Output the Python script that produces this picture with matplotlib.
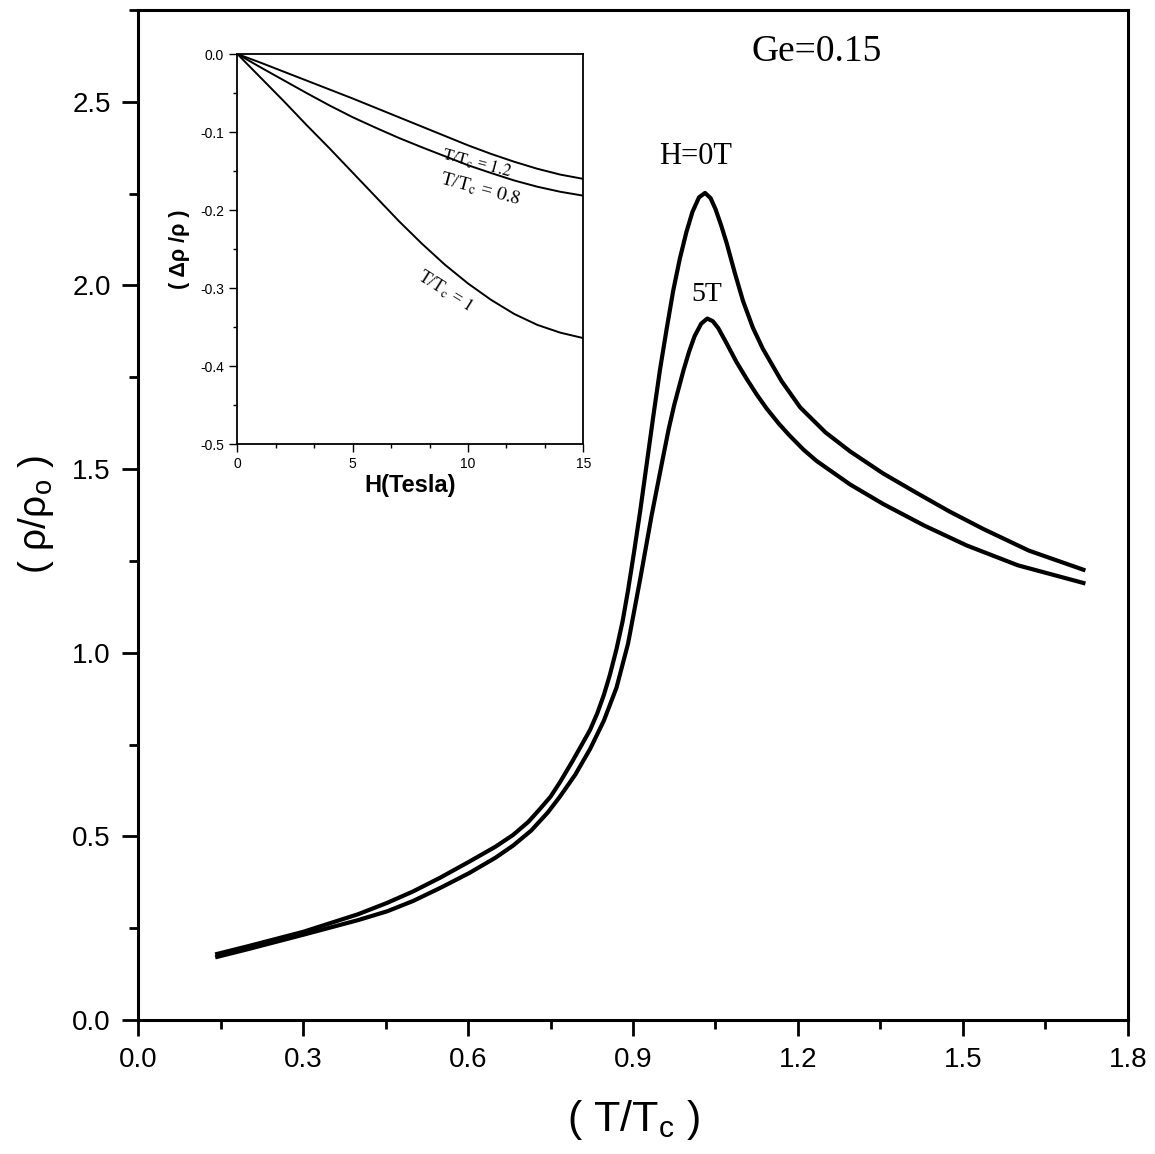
#!/usr/bin/env python3
import matplotlib

matplotlib.use("Agg")
import matplotlib.pyplot as plt
from matplotlib.ticker import FormatStrFormatter, MultipleLocator


# main panel: rho/rho_0 against T/Tc
T_H0 = [0.144, 0.200, 0.300, 0.400, 0.453, 0.500, 0.550, 0.602, 0.650, 0.682,
        0.710, 0.731, 0.750, 0.767, 0.790, 0.807, 0.822, 0.835, 0.847, 0.858,
        0.870, 0.881, 0.891, 0.902, 0.913, 0.925, 0.937, 0.949, 0.961, 0.973,
        0.985, 0.997, 1.008, 1.020, 1.031, 1.041, 1.050, 1.060, 1.070, 1.085,
        1.100, 1.118, 1.136, 1.170, 1.204, 1.250, 1.295, 1.355, 1.416, 1.475,
        1.537, 1.620, 1.719]
RHO_H0 = [0.180, 0.201, 0.240, 0.288, 0.319, 0.350, 0.388, 0.431, 0.472, 0.504,
          0.540, 0.575, 0.608, 0.647, 0.705, 0.750, 0.790, 0.835, 0.885, 0.940,
          1.010, 1.085, 1.170, 1.275, 1.385, 1.515, 1.645, 1.770, 1.880, 1.985,
          2.072, 2.145, 2.200, 2.240, 2.252, 2.238, 2.208, 2.165, 2.117, 2.035,
          1.958, 1.885, 1.828, 1.740, 1.668, 1.600, 1.548, 1.488, 1.435, 1.385,
          1.337, 1.278, 1.226]

T_H5 = [0.144, 0.200, 0.300, 0.400, 0.453, 0.500, 0.550, 0.602, 0.650, 0.682,
        0.715, 0.745, 0.767, 0.795, 0.822, 0.847, 0.870, 0.891, 0.913, 0.934,
        0.955, 0.965, 0.975, 0.992, 1.002, 1.012, 1.024, 1.035, 1.045, 1.055,
        1.070, 1.088, 1.107, 1.125, 1.143, 1.165, 1.185, 1.210, 1.234, 1.295,
        1.355, 1.430, 1.507, 1.600, 1.719]
RHO_H5 = [0.172, 0.193, 0.232, 0.272, 0.296, 0.324, 0.360, 0.400, 0.442, 0.475,
          0.516, 0.565, 0.608, 0.668, 0.738, 0.815, 0.905, 1.025, 1.200, 1.375,
          1.535, 1.610, 1.675, 1.770, 1.820, 1.862, 1.896, 1.910, 1.903, 1.884,
          1.843, 1.792, 1.745, 1.703, 1.665, 1.624, 1.591, 1.553, 1.522, 1.458,
          1.405, 1.346, 1.292, 1.238, 1.190]

# inset: delta rho / rho against field
H_TESLA = [0, 1, 2, 3, 4, 5, 6, 7, 8, 9, 10, 11, 12, 13, 14, 15]
DR_T12 = [0, -0.011, -0.0225, -0.034, -0.0455, -0.057, -0.069, -0.081, -0.093,
          -0.105, -0.117, -0.128, -0.138, -0.147, -0.1545, -0.160]
DR_T08 = [0, -0.017, -0.0335, -0.050, -0.066, -0.081, -0.0945, -0.1075, -0.1195,
          -0.131, -0.1425, -0.1525, -0.162, -0.170, -0.1765, -0.1815]
DR_T10 = [0, -0.030, -0.060, -0.091, -0.121, -0.152, -0.183, -0.214, -0.243,
          -0.270, -0.294, -0.315, -0.333, -0.347, -0.357, -0.364]

SERIF = "Liberation Serif"


def style_main(ax):
    ax.set_xlim(0, 1.8)
    ax.set_ylim(0, 2.75)
    ax.xaxis.set_major_locator(MultipleLocator(0.3))
    ax.xaxis.set_minor_locator(MultipleLocator(0.15))
    ax.yaxis.set_major_locator(MultipleLocator(0.5))
    ax.yaxis.set_minor_locator(MultipleLocator(0.25))
    ax.xaxis.set_major_formatter(FormatStrFormatter("%.1f"))
    ax.yaxis.set_major_formatter(FormatStrFormatter("%.1f"))
    ax.tick_params(which="both", direction="out", top=False, right=False, width=2.0)
    ax.tick_params(which="major", length=11.5, labelsize=20, pad=8)
    ax.tick_params(which="minor", length=6.5)
    for spine in ax.spines.values():
        spine.set_linewidth(2.2)
    ax.set_xlabel(r"( T/T$_\mathrm{c}$ )", fontsize=31, labelpad=18)
    ax.set_ylabel(r"( ρ/ρ$_\mathrm{o}$ )", fontsize=28, labelpad=12)


def style_inset(ins):
    ins.set_xlim(0, 15)
    ins.set_ylim(-0.5, 0.0)
    ins.xaxis.set_major_locator(MultipleLocator(5))
    ins.xaxis.set_minor_locator(MultipleLocator(5 / 3))
    ins.yaxis.set_major_locator(MultipleLocator(0.1))
    ins.yaxis.set_minor_locator(MultipleLocator(0.05))
    ins.yaxis.set_major_formatter(FormatStrFormatter("%.1f"))
    ins.tick_params(which="both", direction="out", top=False, right=False, width=1.0)
    ins.tick_params(which="major", length=5.5, labelsize=10, pad=4)
    ins.tick_params(which="minor", length=3)
    for spine in ins.spines.values():
        spine.set_linewidth(1.3)
    ins.set_xlabel("H(Tesla)", fontsize=17, fontweight="bold", labelpad=2)
    ins.set_ylabel("( Δρ /ρ )", fontsize=15.5, fontweight="bold", labelpad=7)


def main():
    plt.rcParams["font.family"] = "Liberation Sans"
    plt.rcParams["mathtext.fontset"] = "custom"
    plt.rcParams["mathtext.rm"] = "Liberation Sans"
    plt.rcParams["mathtext.it"] = "Liberation Sans:italic"
    plt.rcParams["mathtext.bf"] = "Liberation Sans:bold"
    plt.rcParams["axes.unicode_minus"] = False

    fig = plt.figure(figsize=(11.55, 11.54), dpi=100)
    ax = fig.add_axes([0.1195, 0.1161, 0.8571, 0.8752])
    ax.plot(T_H0, RHO_H0, color="black", lw=3.0, solid_joinstyle="round")
    ax.plot(T_H5, RHO_H5, color="black", lw=3.0, solid_joinstyle="round")
    style_main(ax)

    ax.text(1.234, 2.610, "Ge=0.15", family=SERIF, fontsize=27, ha="center", va="baseline")
    ax.text(1.0145, 2.331, "H=0T", family=SERIF, fontsize=22, ha="center", va="baseline")
    ax.text(1.034, 1.958, "5T", family=SERIF, fontsize=20, ha="center", va="baseline")

    ins = fig.add_axes([0.2055, 0.6150, 0.2996, 0.3382])
    for values in (DR_T12, DR_T08, DR_T10):
        ins.plot(H_TESLA, values, color="black", lw=1.4, solid_joinstyle="round")
    style_inset(ins)

    label_kw = dict(family=SERIF, math_fontfamily="stix", ha="center", va="center",
                    rotation_mode="anchor")
    ins.text(10.38, -0.140, r"T/T$_\mathrm{c}$ = $\mathit{1.2}$", fontsize=12,
             rotation=-15, **label_kw)
    ins.text(10.52, -0.173, r"T/T$_\mathrm{c}$ = $\mathit{0.8}$", fontsize=14,
             rotation=-15, **label_kw)
    ins.text(9.0, -0.3045, r"T/T$_\mathrm{c}$ = $\mathit{1}$", fontsize=13,
             rotation=-32, **label_kw)

    fig.savefig("out.png", dpi=100, facecolor="white")
    plt.close(fig)


if __name__ == "__main__":
    main()
